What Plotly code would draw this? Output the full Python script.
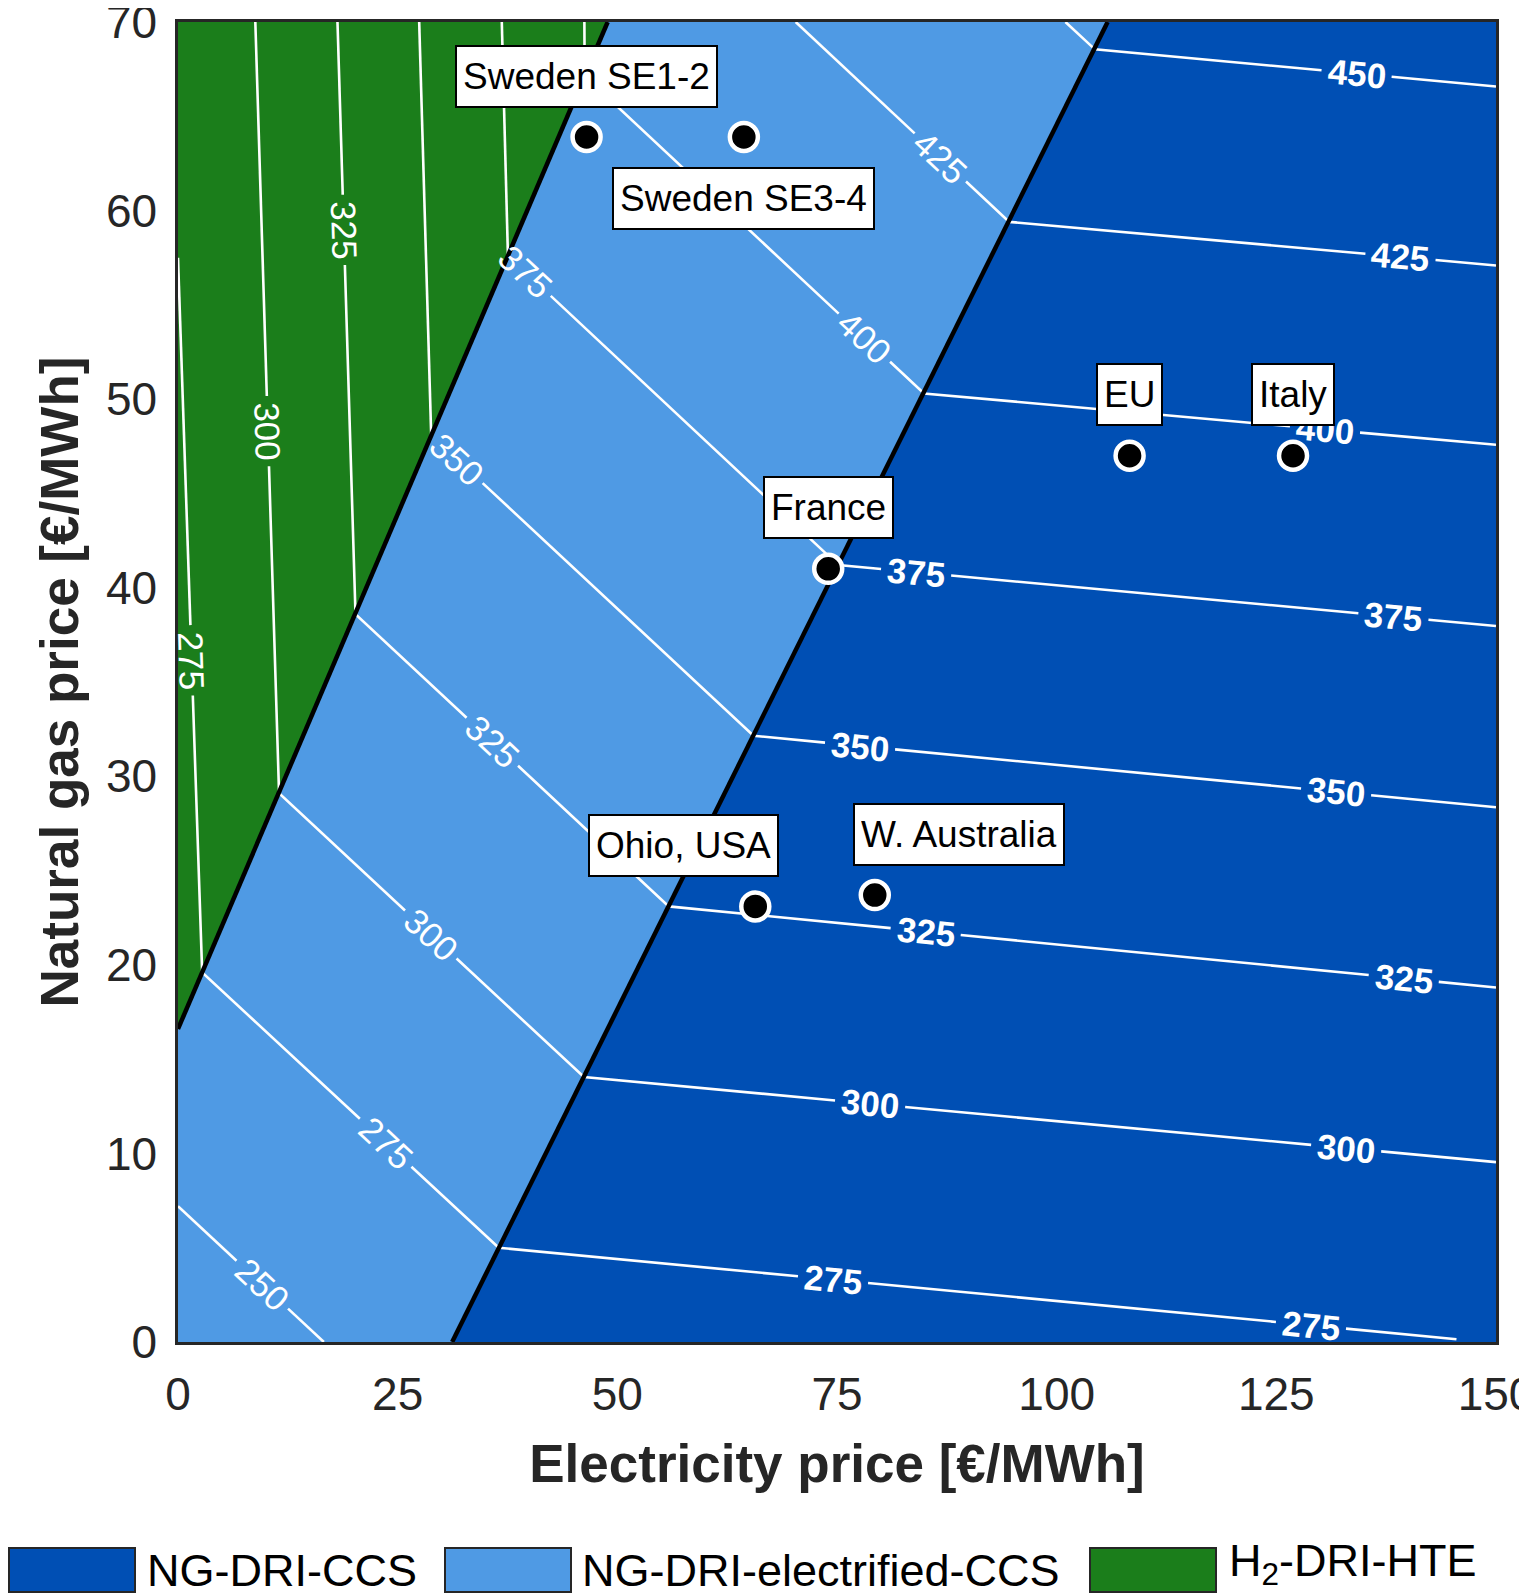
import math
import plotly.graph_objects as go

FONT = "Liberation Sans, Arial, Helvetica, sans-serif"
INK = "#262626"

# ---------------- values ----------------
elec_range = [0, 150]
gas_range = [0, 70]
elec_ticks = [0, 25, 50, 75, 100, 125, 150]
gas_ticks = [0, 10, 20, 30, 40, 50, 60, 70]

# boundaries between cheapest routes (electricity price, gas price)
h2_edge_x = [0, 48.9]        # H2-DRI-HTE | NG-DRI-electrified-CCS
h2_edge_y = [16.6, 70]
ccs_edge_x = [31.2, 105.8]   # NG-DRI-electrified-CCS | NG-DRI-CCS
ccs_edge_y = [0, 70]

routes = ["NG-DRI-CCS", "NG-DRI-electrified-CCS", "H<sub>2</sub>-DRI-HTE"]
route_colors = ["#004fb4", "#4f9ae4", "#1b7e1b"]

# iso-cost lines (polyline vertices)
levels = [250, 275, 300, 325, 350, 375, 400, 425, 450]
contour_x = [
    [0, 16.6],
    [0, 2.75, 36.5, 145.5],
    [8.8, 11.5, 46.2, 150],
    [18.15, 20.2, 55.85, 150],
    [27.45, 28.8, 65.5, 150],
    [36.85, 37.55, 75.15, 150],
    [46.25, 46.28, 84.9, 150],
    [70.3, 94.6, 150],
    [101.0, 104.35, 150],
]
contour_y = [
    [7.2, 0],
    [57.5, 19.6, 5.0, 0.15],
    [70, 29.1, 14.05, 9.54],
    [70, 38.6, 23.1, 18.8],
    [70, 48.1, 32.15, 28.36],
    [70, 57.6, 41.2, 37.97],
    [70, 67.14, 50.3, 47.58],
    [70, 59.4, 57.09],
    [70, 68.55, 66.58],
]

# inline contour labels
label_level = [275, 300, 325,
               250, 275, 300, 325, 350, 375, 400, 425,
               275, 275, 300, 300, 325, 325, 350, 350, 375, 375, 400, 425, 450]
label_x = [1.52, 10.0, 18.55,
           9.45, 23.1, 28.45, 35.47, 31.5, 39.6, 77.9, 86.5,
           74.5, 128.9, 78.7, 132.9, 85.1, 139.5, 77.6, 131.8, 84.0, 138.3, 130.5, 139.1, 134.1]
label_y = [36.15, 48.3, 58.97,
           2.97, 10.3, 21.45, 31.68, 46.7, 56.8, 53.15, 62.69,
           3.08, 0.69, 12.3, 10.05, 21.8, 19.28, 31.5, 29.17, 40.8, 38.35, 48.2, 57.4, 67.1]

# locations
sites = ["Sweden SE1-2", "Sweden SE3-4", "France", "EU", "Italy", "Ohio, USA", "W. Australia"]
site_elec = [46.5, 64.4, 74.0, 108.3, 126.9, 65.7, 79.3]
site_gas = [63.9, 63.9, 41.0, 47.0, 47.0, 23.1, 23.7]
site_dx = [0, 0, 0, 0, 0, -72, 84]     # label box offset, px
site_dy = [61, -61, 61, 61, 61, 61, 61]

# ---------------- geometry ----------------
W, H = 1527, 1593
ML, MR, MT, MB = 170, 39, 14, 259
plot_w = W - ML - MR
plot_h = H - MT - MB
sx = plot_w / (elec_range[1] - elec_range[0])
sy = plot_h / (gas_range[1] - gas_range[0])


def zone(x, y):
    ya = h2_edge_y[0] + (h2_edge_y[1] - h2_edge_y[0]) * (x - h2_edge_x[0]) / (h2_edge_x[1] - h2_edge_x[0])
    if y > ya:
        return 2
    xb = ccs_edge_x[0] + (ccs_edge_x[1] - ccs_edge_x[0]) * (y - ccs_edge_y[0]) / (ccs_edge_y[1] - ccs_edge_y[0])
    if x > xb:
        return 0
    return 1


fig = go.Figure()

# filled regions
x0, x1 = elec_range
y0, y1 = gas_range
region_x = [
    [ccs_edge_x[0], x1, x1, ccs_edge_x[1]],
    [x0, ccs_edge_x[0], ccs_edge_x[1], h2_edge_x[1], h2_edge_x[0]],
    [h2_edge_x[0], h2_edge_x[1], x0],
]
region_y = [
    [ccs_edge_y[0], y0, y1, ccs_edge_y[1]],
    [y0, ccs_edge_y[0], ccs_edge_y[1], h2_edge_y[1], h2_edge_y[0]],
    [h2_edge_y[0], h2_edge_y[1], y1],
]
for rx, ry, col in zip(region_x, region_y, route_colors):
    fig.add_trace(go.Scatter(x=rx, y=ry, fill="toself", fillcolor=col, mode="lines",
                             line=dict(width=0, color=col), hoverinfo="skip", showlegend=False))

# place labels on their lines and work out the gaps
LABEL_FS = 35
gaps = [[] for _ in levels]
labels = []
for lev, lx, ly in zip(label_level, label_x, label_y):
    i = levels.index(lev)
    xs, ys = contour_x[i], contour_y[i]
    best = None
    for k in range(len(xs) - 1):
        ax_, ay_ = xs[k] * sx, ys[k] * sy
        dx, dy = (xs[k + 1] - xs[k]) * sx, (ys[k + 1] - ys[k]) * sy
        L = math.hypot(dx, dy)
        t = ((lx * sx - ax_) * dx + (ly * sy - ay_) * dy) / L ** 2
        t = min(max(t, 0.0), 1.0)
        d = math.hypot(ax_ + t * dx - lx * sx, ay_ + t * dy - ly * sy)
        if best is None or d < best[0]:
            best = (d, k, t, L)
    _, k, t, L = best
    cx = xs[k] + t * (xs[k + 1] - xs[k])
    cy = ys[k] + t * (ys[k + 1] - ys[k])
    ang = math.degrees(math.atan2(-(ys[k + 1] - ys[k]) * sy, (xs[k + 1] - xs[k]) * sx))
    if ang > 90:
        ang -= 180
    if ang <= -90:
        ang += 180
    half = len(str(lev)) * 0.556 * LABEL_FS / 2 + 6
    gaps[i].append((k, t * L, half))
    labels.append((lev, cx, cy, ang, zone(lx, ly)))

# contour lines with gaps for labels
for i, lev in enumerate(levels):
    xs, ys = contour_x[i], contour_y[i]
    px, py = [xs[0]], [ys[0]]
    for k in range(len(xs) - 1):
        L = math.hypot((xs[k + 1] - xs[k]) * sx, (ys[k + 1] - ys[k]) * sy)
        for kk, tc, h in sorted(g for g in gaps[i] if g[0] == k):
            a = max(tc - h, 0) / L
            b = min(tc + h, L) / L
            px += [xs[k] + (xs[k + 1] - xs[k]) * a, None, xs[k] + (xs[k + 1] - xs[k]) * b]
            py += [ys[k] + (ys[k + 1] - ys[k]) * a, None, ys[k] + (ys[k + 1] - ys[k]) * b]
        px.append(xs[k + 1])
        py.append(ys[k + 1])
    fig.add_trace(go.Scatter(x=px, y=py, mode="lines", line=dict(color="white", width=2.6),
                             hoverinfo="skip", showlegend=False))

# route boundaries
for bx, by in [(h2_edge_x, h2_edge_y), (ccs_edge_x, ccs_edge_y)]:
    fig.add_trace(go.Scatter(x=bx, y=by, mode="lines", line=dict(color="black", width=4.5),
                             hoverinfo="skip", showlegend=False))

# locations
fig.add_trace(go.Scatter(x=site_elec, y=site_gas, mode="markers",
                         marker=dict(size=28, color="black", line=dict(color="white", width=4.5)),
                         text=sites, hoverinfo="text", showlegend=False))

annotations = []
for lev, cx, cy, ang, z in labels:
    txt = "<b>%d</b>" % lev if z == 0 else "%d" % lev
    annotations.append(dict(x=cx, y=cy, xref="x", yref="y", text=txt, showarrow=False,
                            textangle=ang, xanchor="center", yanchor="middle",
                            font=dict(family=FONT, size=LABEL_FS, color="white")))

for name, ex, gx, dx, dy in zip(sites, site_elec, site_gas, site_dx, site_dy):
    annotations.append(dict(x=ex, y=gx, xref="x", yref="y", text=name, showarrow=False,
                            xshift=dx, yshift=dy, xanchor="center", yanchor="middle",
                            height=47, valign="middle",
                            font=dict(family=FONT, size=37, color="black"),
                            bgcolor="white", bordercolor="black", borderwidth=2, borderpad=6))


# legend drawn by hand (large swatches)
def paper_x(p):
    return (p - ML) / plot_w


def paper_y(p):
    return (H - MB - p) / plot_h


swatch_left = [1, 437, 1082]
text_left = [137, 572, 1219]
text_mid = [1562, 1562, 1555]
shapes = []
for name, col, sl, tl, tm in zip(routes, route_colors, swatch_left, text_left, text_mid):
    shapes.append(dict(type="rect", xref="paper", yref="paper",
                       x0=paper_x(sl), x1=paper_x(sl + 126), y0=paper_y(1584), y1=paper_y(1540),
                       fillcolor=col, line=dict(color=INK, width=2)))
    annotations.append(dict(x=paper_x(tl), y=paper_y(tm), xref="paper", yref="paper",
                            text=name, showarrow=False, xanchor="left", yanchor="middle",
                            font=dict(family=FONT, size=45, color="black")))

fig.update_layout(
    width=W, height=H,
    margin=dict(l=ML, r=MR, t=MT, b=MB, autoexpand=False),
    paper_bgcolor="white", plot_bgcolor="white",
    font=dict(family=FONT, color=INK),
    shapes=shapes, annotations=annotations,
    showlegend=False,
)
fig.update_xaxes(range=elec_range, tickvals=elec_ticks, ticks="", showgrid=False, zeroline=False,
                 showline=True, mirror=True, linecolor=INK, linewidth=2.5, automargin=False,
                 ticklabeloverflow="allow",
                 tickfont=dict(family=FONT, size=46, color=INK), ticklabelstandoff=10,
                 title=dict(text="<b>Electricity price [€/MWh]</b>", standoff=26,
                            font=dict(family=FONT, size=53, color=INK)))
fig.update_yaxes(range=gas_range, tickvals=gas_ticks, ticks="", showgrid=False, zeroline=False,
                 showline=True, mirror=True, linecolor=INK, linewidth=2.5, automargin=False,
                 ticklabeloverflow="allow",
                 tickfont=dict(family=FONT, size=46, color=INK), ticklabelstandoff=9,
                 title=dict(text="<b>Natural gas price [€/MWh]</b>", standoff=11,
                            font=dict(family=FONT, size=53, color=INK)))

fig.write_html("out.html")
